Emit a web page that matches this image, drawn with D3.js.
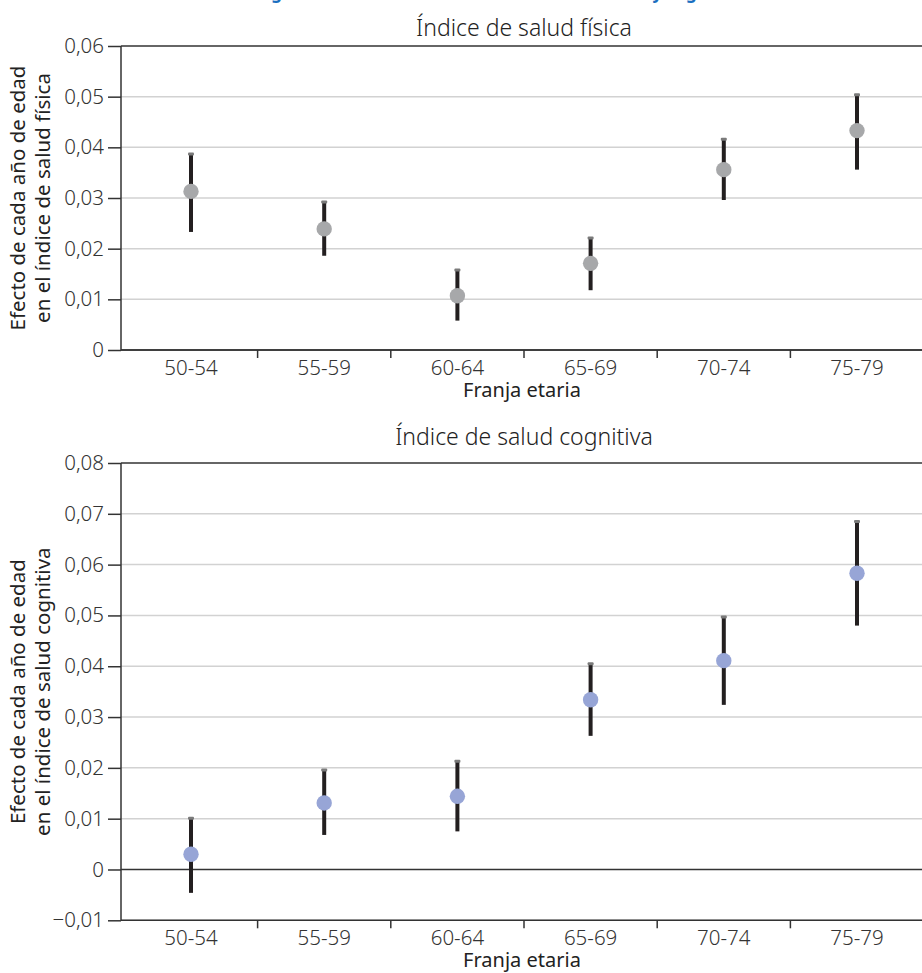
<!DOCTYPE html>
<html>
<head>
<meta charset="utf-8">
<script src="https://cdn.jsdelivr.net/npm/d3@7"></script>
<style>
  html, body { margin: 0; padding: 0; background: #fff; }
  svg { display: block; font-family: "Noto Sans", "Open Sans", sans-serif; }
</style>
</head>
<body>
<svg id="chart" width="922" height="973"></svg>
<script>
// ---------- DATA ----------
const categories = ["50-54", "55-59", "60-64", "65-69", "70-74", "75-79"];

const fisicaPoint = [0.0313, 0.0239, 0.0107, 0.0171, 0.0356, 0.0433];
const fisicaUpper = [0.0387, 0.0292, 0.0158, 0.0221, 0.0416, 0.0504];
const fisicaLower = [0.0233, 0.0186, 0.0058, 0.0118, 0.0296, 0.0356];

const cognitivaPoint = [0.0030, 0.0131, 0.0144, 0.0334, 0.0411, 0.0583];
const cognitivaUpper = [0.0101, 0.0196, 0.0213, 0.0405, 0.0497, 0.0685];
const cognitivaLower = [-0.0046, 0.0068, 0.0075, 0.0263, 0.0324, 0.0480];

const fisicaTicks = [0, 0.01, 0.02, 0.03, 0.04, 0.05, 0.06];
const cognitivaTicks = [-0.01, 0, 0.01, 0.02, 0.03, 0.04, 0.05, 0.06, 0.07, 0.08];

const headerTitle = "Figura 4. Efecto de la edad sobre la salud física y cognitiva";
const panelTitles = ["Índice de salud física", "Índice de salud cognitiva"];
const yTitlesLine1 = ["Efecto de cada año de edad", "Efecto de cada año de edad"];
const yTitlesLine2 = ["en el índice de salud física", "en el índice de salud cognitiva"];
const xTitle = "Franja etaria";

// ---------- SETUP ----------
const svg = d3.select("#chart");
const locale = d3.formatLocale({decimal: ",", thousands: ".", grouping: [3], currency: ["", "€"], minus: "\u2212"});
const fmt = locale.format(".2f");
const tickFmt = v => Math.abs(v) < 1e-9 ? "0" : fmt(v);

const axisX = 121;
const bandLeft = 124.4, bandRight = 923.6;
const FS = 20.5;
const FW = 300;
const TXT = "#333333";

// header (mostly cropped at top, as in the reference)
svg.append("text")
  .attr("x", 501).attr("y", -1)
  .attr("text-anchor", "middle")
  .attr("font-size", 17).attr("font-weight", "bold")
  .attr("fill", "#1a6fc0")
  .text(headerTitle);

function panel(cfg) {
  const g = svg.append("g");
  const x = d3.scaleBand().domain(categories).range([bandLeft, bandRight]).padding(0);
  const y = d3.scaleLinear().domain(cfg.domain).range([cfg.bottom, cfg.top]);
  const data = categories.map((c, i) => ({c, p: cfg.point[i], u: cfg.upper[i], l: cfg.lower[i]}));
  const isDark = d => Math.abs(d) < 1e-9 || d === cfg.domain[1];

  // gridlines
  g.append("g").selectAll("line").data(cfg.ticks).join("line")
    .attr("x1", axisX).attr("x2", 922)
    .attr("y1", d => y(d)).attr("y2", d => y(d))
    .attr("stroke", d => isDark(d) ? "#333" : "#d2d2d2")
    .attr("stroke-width", 1.5);

  // y axis
  const yAxis = d3.axisLeft(y).tickValues(cfg.ticks).tickFormat(tickFmt).tickSize(13).tickPadding(4);
  const ya = g.append("g").attr("transform", `translate(${axisX},0)`).call(yAxis);
  ya.select(".domain").attr("stroke", "#333").attr("stroke-width", 1.5)
    .attr("d", `M0,${cfg.top}V${cfg.bottom}`);
  ya.selectAll(".tick line").attr("stroke", "#333").attr("stroke-width", 1.5);
  ya.selectAll(".tick text").attr("font-size", FS).attr("font-weight", FW).attr("fill", TXT)
    .attr("font-family", "'Noto Sans', 'Open Sans', sans-serif");

  // x axis
  const xa = g.append("g").attr("transform", `translate(0,${cfg.bottom})`);
  xa.append("line").attr("x1", axisX).attr("x2", 922).attr("y1", 0).attr("y2", 0)
    .attr("stroke", "#333").attr("stroke-width", 1.5);
  xa.selectAll("line.sep").data(categories.slice(1)).join("line").attr("class", "sep")
    .attr("x1", d => x(d)).attr("x2", d => x(d)).attr("y1", 0).attr("y2", 8)
    .attr("stroke", "#333").attr("stroke-width", 1.5);
  xa.selectAll("text.cat").data(categories).join("text").attr("class", "cat")
    .attr("x", d => x(d) + x.bandwidth() / 2).attr("y", 25)
    .attr("text-anchor", "middle").attr("font-size", FS).attr("font-weight", FW).attr("fill", TXT)
    .text(d => d);
  xa.append("text").attr("x", 522).attr("y", 47).attr("text-anchor", "middle")
    .attr("font-size", 20).attr("font-weight", 400).attr("fill", "#222").text(xTitle);

  // panel title
  g.append("text").attr("x", 524).attr("y", cfg.titleY).attr("text-anchor", "middle")
    .attr("font-size", 23).attr("font-weight", FW).attr("fill", "#222").text(cfg.title);

  // y title
  const cy = (cfg.top + cfg.bottom) / 2;
  const yt = g.append("text").attr("transform", `translate(25,${cy}) rotate(-90)`)
    .attr("text-anchor", "middle").attr("font-size", 20.5).attr("font-weight", 400).attr("fill", "#222");
  yt.append("tspan").attr("x", 0).attr("y", 0).text(cfg.yt1);
  yt.append("tspan").attr("x", 0).attr("y", 24.5).text(cfg.yt2);

  // error bars
  const cx = d => x(d.c) + x.bandwidth() / 2;
  g.append("g").selectAll("line").data(data).join("line")
    .attr("x1", cx).attr("x2", cx)
    .attr("y1", d => y(d.l)).attr("y2", d => y(d.u))
    .attr("stroke", "#231f20").attr("stroke-width", 4);
  g.append("g").selectAll("rect").data(data).join("rect")
    .attr("x", d => cx(d) - 3).attr("y", d => y(d.u) - 1.5)
    .attr("width", 6).attr("height", 3).attr("rx", 1)
    .attr("fill", "#7a7a7a");
  g.append("g").selectAll("circle").data(data).join("circle")
    .attr("cx", cx).attr("cy", d => y(d.p)).attr("r", 7.7)
    .attr("fill", cfg.color);
}

panel({
  domain: [0, 0.06], top: 46, bottom: 350, ticks: fisicaTicks, titleY: 36,
  point: fisicaPoint, upper: fisicaUpper, lower: fisicaLower,
  color: "#a7a8aa", title: panelTitles[0], yt1: yTitlesLine1[0], yt2: yTitlesLine2[0]
});
panel({
  domain: [-0.01, 0.08], top: 463, bottom: 920.3, ticks: cognitivaTicks, titleY: 445,
  point: cognitivaPoint, upper: cognitivaUpper, lower: cognitivaLower,
  color: "#97a5d6", title: panelTitles[1], yt1: yTitlesLine1[1], yt2: yTitlesLine2[1]
});
</script>
</body>
</html>
